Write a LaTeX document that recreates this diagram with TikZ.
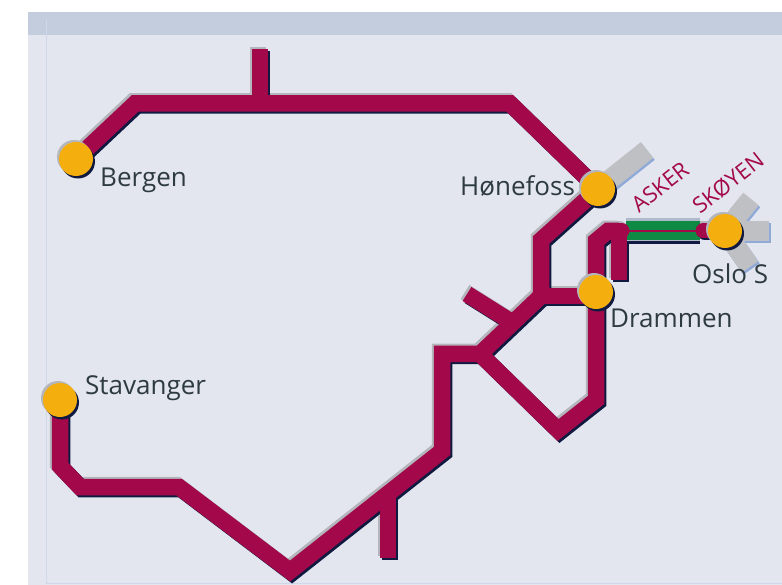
\documentclass[tikz,border=0pt]{standalone}
\usepackage{fontspec}
\setmainfont{Open Sans}
\usetikzlibrary{backgrounds}
\definecolor{panel}{HTML}{E3E6EE}
\definecolor{band}{HTML}{C3CDDE}
\definecolor{frameline}{HTML}{CFD7E8}
\definecolor{crim}{HTML}{A3084B}
\definecolor{navy}{HTML}{101A40}
\definecolor{shadowgrey}{HTML}{B4B6BC}
\definecolor{gold}{HTML}{F4AE0E}
\definecolor{railgrey}{HTML}{BEC0C4}
\definecolor{railblue}{HTML}{8FAAD8}
\definecolor{greenrail}{HTML}{0F8A45}
\definecolor{labeltext}{HTML}{2E3A42}
\tikzset{
  station/.style={circle,fill=gold,minimum size=34pt,inner sep=0pt},
  place/.style={text=labeltext,font=\fontsize{26}{26}\selectfont,anchor=base west,inner sep=0pt},
  ratelabel/.style={text=crim,font=\fontsize{22}{22}\selectfont,rotate=38,inner sep=0pt},
  track/.style={line width=16.5pt,line join=miter,line cap=butt,miter limit=10},
  sidearm/.style={line width=20pt,line cap=butt}
}
\newcommand{\trackpaths}[1]{%
  \draw[track,#1] (bergen.center) -- (c1) -- (c2) -- (honefoss.center) -- (c3) -- (c5);
  \draw[track,#1] (c5) -- (c4);
  \draw[track,#1] (c5) -- (c6) -- (c7) -- (c8) -- (c9) -- (c10) -- (c11) -- (c12) -- (stavanger.center);
  \draw[track,#1] (c6) -- (c14) -- (c15) -- (drammen.center) -- (c16) -- (c17) -- (c18);
  \draw[track,#1] (c19) -- (c20);
  \draw[track,#1] (c21) -- (c22);
  \draw[track,#1] (c23) -- (c24);
  \draw[track,#1] (c25) -- (c26);
  \draw[track,#1,line cap=round,line width=15pt] (c18) -- (c27);
  \draw[track,#1,line cap=round,line width=15pt] (c28) -- (oslo.center);
}
\begin{document}
\begin{tikzpicture}[x=1pt,y=-1pt]
\useasboundingbox (0,0) rectangle (782,585);
\node[station] (bergen) at (76,159) {};
\node[station] (stavanger) at (60,400) {};
\node[station] (honefoss) at (598,189) {};
\node[station] (drammen) at (596,292) {};
\node[station] (oslo) at (725,231) {};
\coordinate (c1) at (135,103.5);
\coordinate (c2) at (510,103.5);
\coordinate (c3) at (541,240);
\coordinate (c4) at (590,296);
\coordinate (c5) at (541,296);
\coordinate (c6) at (480,354);
\coordinate (c7) at (442,354);
\coordinate (c8) at (442,451);
\coordinate (c9) at (290,571);
\coordinate (c10) at (179,487);
\coordinate (c11) at (80,487);
\coordinate (c12) at (60,466);
\coordinate (c14) at (558,430);
\coordinate (c15) at (596,400);
\coordinate (c16) at (596,241);
\coordinate (c17) at (608,231);
\coordinate (c18) at (619,231);
\coordinate (c19) at (467,294);
\coordinate (c20) at (510,321);
\coordinate (c21) at (388,490);
\coordinate (c22) at (388,558);
\coordinate (c23) at (260,49);
\coordinate (c24) at (260,103);
\coordinate (c25) at (619,231);
\coordinate (c26) at (619,280);
\coordinate (c27) at (622,231);
\coordinate (c28) at (703,231);
\coordinate (a1) at (647,150);
\coordinate (a2) at (769,231);
\coordinate (a3) at (751,199);
\coordinate (a4) at (750,267);
\coordinate (r1) at (626,231);
\coordinate (r2) at (700,231);
\begin{pgfonlayer}{background}
  \fill[panel] (28,12) rectangle (782,585);
  \fill[band] (28,12) rectangle (782,35);
  \draw[frameline,line width=1pt] (46,20) -- (46,583) -- (782,583);
  % grey side rails
  \begin{scope}[transform canvas={xshift=1.5pt,yshift=-2pt}]
    \draw[sidearm,railblue] (honefoss.center) -- (a1);
    \draw[sidearm,railblue] (oslo.center) -- (a2);
    \draw[sidearm,railblue] (oslo.center) -- (a3);
    \draw[sidearm,railblue] (oslo.center) -- (a4);
  \end{scope}
  \draw[sidearm,railgrey] (honefoss.center) -- (a1);
  \draw[sidearm,railgrey] (oslo.center) -- (a2);
  \draw[sidearm,railgrey] (oslo.center) -- (a3);
  \draw[sidearm,railgrey] (oslo.center) -- (a4);
  % track shadows
  \begin{scope}[transform canvas={xshift=-2pt,yshift=2pt}]\trackpaths{shadowgrey}\end{scope}
  \begin{scope}[transform canvas={xshift=2pt,yshift=-2pt}]\trackpaths{navy}\end{scope}
  % green double line to Oslo
  \draw[line width=23pt,navy] ([yshift=-1.5pt]r1) -- ([yshift=-1.5pt]r2);
  \draw[line width=23pt,railgrey!70!railblue] ([yshift=1pt]r1) -- ([yshift=1pt]r2);
  \draw[line width=19pt,greenrail] (r1) -- (r2);
  \draw[line width=1.6pt,crim] (r1) -- (r2);
  % tracks
  \trackpaths{crim}
  % station shadows
  \foreach \s in {bergen,stavanger,honefoss,drammen,oslo}{
    \fill[shadowgrey] ([xshift=-2pt,yshift=2pt]\s.center) circle (17);
    \fill[navy] ([xshift=2pt,yshift=-2.5pt]\s.center) circle (17);
  }
\end{pgfonlayer}
\node[place] (lb) at (100,187) {Bergen};
\node[place] (ls) at (85,395) {Stavanger};
\node[place] (lh) at (460,196) {Hønefoss};
\node[place] (ld) at (610,327) {Drammen};
\node[place] (lo) at (692,284) {Oslo S};
\node[ratelabel] (la) at (660,187) {ASKER};
\node[ratelabel] (lk) at (728,183) {SKØYEN};
\end{tikzpicture}
\end{document}
